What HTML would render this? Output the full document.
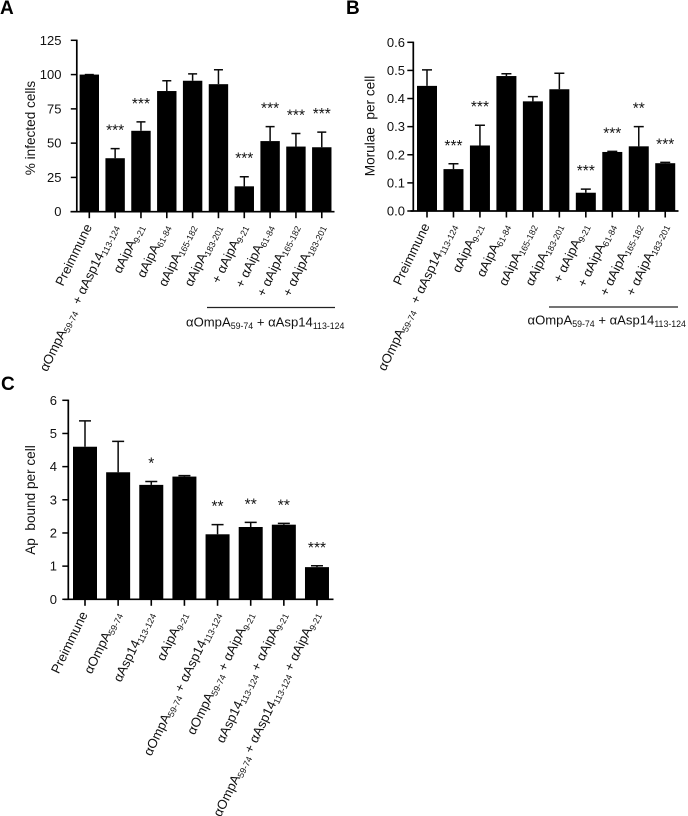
<!DOCTYPE html>
<html lang="en">
<head>
<meta charset="utf-8">
<title>Antibody blocking bar charts</title>
<style>
html,body{margin:0;padding:0;background:#fff;}
#figure{display:block;width:688px;height:816px;}
text{font-family:"Liberation Sans",sans-serif;fill:#111;white-space:pre;}
</style>
</head>
<body>
<svg id="figure" width="688" height="816" viewBox="0 0 688 816" xmlns="http://www.w3.org/2000/svg">
<text x="0" y="14" font-size="19" font-weight="bold" style="fill:#000">A</text>
<text x="346" y="14" font-size="19" font-weight="bold" style="fill:#000">B</text>
<text x="1" y="390" font-size="19" font-weight="bold" style="fill:#000">C</text>
<line x1="207" y1="307.5" x2="335" y2="307.5" stroke="#222" stroke-width="1.3"/>
<text x="186" y="326.5" font-size="13.1">αOmpA<tspan font-size="8.8" dy="2.5">59-74</tspan><tspan dy="-2.5"> + αAsp14</tspan><tspan font-size="8.8" dy="2.5">113-124</tspan></text>
<line x1="549" y1="307" x2="678" y2="307" stroke="#222" stroke-width="1.3"/>
<text x="527.5" y="324.5" font-size="13.1">αOmpA<tspan font-size="8.8" dy="2.5">59-74</tspan><tspan dy="-2.5"> + αAsp14</tspan><tspan font-size="8.8" dy="2.5">113-124</tspan></text>
</svg>
<script>
// Panel A data
const categoriesA = ["Preimmune","αOmpA|59-74|  + αAsp14|113-124|","αAipA|9-21|","αAipA|61-84|","αAipA|165-182|","αAipA|183-201|","+ αAipA|9-21|","+ αAipA|61-84|","+ αAipA|165-182|","+ αAipA|183-201|"];
const valuesA = [100,39,59,88,95.5,93,18.5,51.5,47.5,47];
const errorTopsA = [100,46,65.5,95.5,100.5,103.5,25.5,62,57,58];
const starsA = ["","***","***","","","","***","***","***","***"];
const tickValuesA = [0,25,50,75,100,125];
const tickLabelsA = ["0","25","50","75","100","125"];

// Panel B data
const categoriesB = ["Preimmune","αOmpA|59-74|  + αAsp14|113-124|","αAipA|9-21|","αAipA|61-84|","αAipA|165-182|","αAipA|183-201|","+ αAipA|9-21|","+ αAipA|61-84|","+ αAipA|165-182|","+ αAipA|183-201|"];
const valuesB = [0.445,0.149,0.233,0.48,0.39,0.433,0.065,0.21,0.23,0.17];
const errorTopsB = [0.502,0.168,0.305,0.488,0.407,0.49,0.078,0.212,0.3,0.173];
const starsB = ["","***","***","","","","***","***","**","***"];
const tickValuesB = [0,0.1,0.2,0.3,0.4,0.5,0.6];
const tickLabelsB = ["0.0","0.1","0.2","0.3","0.4","0.5","0.6"];

// Panel C data
const categoriesC = ["Preimmune","αOmpA|59-74|","αAsp14|113-124|","αAipA|9-21|","αOmpA|59-74| + αAsp14|113-124|","αOmpA|59-74| + αAipA|9-21|","αAsp14|113-124| + αAipA|9-21|","αOmpA|59-74| + αAsp14|113-124| + αAipA|9-21|"];
const valuesC = [4.6,3.83,3.45,3.7,1.96,2.18,2.25,0.97];
const errorTopsC = [5.38,4.76,3.55,3.73,2.25,2.32,2.29,1.01];
const starsC = ["","","*","","**","**","**","***"];
const tickValuesC = [0,1,2,3,4,5,6];
const tickLabelsC = ["0","1","2","3","4","5","6"];

const SVG_NS = "http://www.w3.org/2000/svg";
const figure = document.getElementById("figure");

function make(tag, parent, props) {
  const el = document.createElementNS(SVG_NS, tag);
  for (const k in props) el.setAttribute(k, props[k]);
  parent.appendChild(el);
  return el;
}

function drawChart(cfg) {
  const yScale = v => cfg.y0 - (v - cfg.yMin) / (cfg.yMax - cfg.yMin) * (cfg.y0 - cfg.yTop);
  const xScale = i => cfg.x0 + i * cfg.step;

  const group = make("g", figure, {});
  
  

  cfg.values.forEach((v, i) => {
    const cx = xScale(i);
    const top = yScale(v);
    const errTop = yScale(cfg.errors[i]);

    const err = make("path", group, {
      d: `M${cx} ${top}V${errTop}M${cx - cfg.capW / 2} ${errTop}H${cx + cfg.capW / 2}`,
      stroke: "#0a0a0a", "stroke-width": 1.5, fill: "none"
    });
    
    

    const bar = make("rect", group, {
      x: cx - cfg.barW / 2, y: top, width: cfg.barW, height: cfg.y0 - top, fill: "#000"
    });
    
    

    if (cfg.stars[i]) {
      const star = make("text", group, {
        x: cx, y: errTop - 19.6 + 6.6, "font-size": 15.5, "text-anchor": "middle"
      });
      
      
      star.textContent = cfg.stars[i];
    }

    const tick = make("line", group, {
      x1: cx, x2: cx, y1: cfg.y0, y2: cfg.y0 + 6.5, stroke: "#000", "stroke-width": 1.6
    });
    
    

    const lx = cx + 3;
    const ly = cfg.y0 + 15;
    const label = make("text", group, {
      x: 0, y: 0, "font-size": 13.1, "text-anchor": "end",
      transform: `translate(${lx} ${ly}) rotate(-64)`
    });
    
    
    let shifted = false;
    cfg.categories[i].split("|").forEach((part, p) => {
      if (!part) return;
      const isSub = p % 2 === 1;
      const span = make("tspan", label, {});
      if (isSub) {
        span.setAttribute("font-size", "8.8");
        span.setAttribute("dy", "2.5");
        shifted = true;
      } else if (shifted) {
        span.setAttribute("dy", "-2.5");
        shifted = false;
      }
      span.textContent = part;
    });
  });

  const axis = make("path", group, {
    d: `M${cfg.axisX} ${cfg.yTop - 0.7}V${cfg.y0}M${cfg.axisLeft} ${cfg.y0}H${cfg.axisRight}`,
    stroke: "#000", "stroke-width": 1.7, fill: "none"
  });
  
  

  cfg.tickValues.forEach((t, i) => {
    const y = yScale(t);
    const tick = make("line", group, {
      x1: cfg.axisX - 6, x2: cfg.axisX, y1: y, y2: y, stroke: "#000", "stroke-width": 1.5
    });
    
    

    const label = make("text", group, {
      x: cfg.tickLabelX, y: y + 4.5, "font-size": 13, "text-anchor": "end"
    });
    
    
    label.textContent = cfg.tickLabels[i];
  });

  const title = make("text", group, {
    x: 0, y: 0, "font-size": 13.6, "text-anchor": "middle",
    transform: `translate(${cfg.titleX} ${cfg.titleY}) rotate(-90)`
  });
  
  
  title.textContent = cfg.title;
}

drawChart({
  id: "panel-a", categories: categoriesA, values: valuesA, errors: errorTopsA, stars: starsA,
  tickValues: tickValuesA, tickLabels: tickLabelsA, title: "% infected cells",
  yMin: 0, yMax: 125, y0: 211.7, yTop: 40.3, axisX: 76.8, axisLeft: 70.5, axisRight: 334.5,
  x0: 89.3, step: 25.83, barW: 19.4, capW: 9, tickLabelX: 61.5, titleX: 35, titleY: 128
});
drawChart({
  id: "panel-b", categories: categoriesB, values: valuesB, errors: errorTopsB, stars: starsB,
  tickValues: tickValuesB, tickLabels: tickLabelsB, title: "Morulae  per cell",
  yMin: 0, yMax: 0.6, y0: 211, yTop: 42.3, axisX: 413.3, axisLeft: 410.5, axisRight: 678.5,
  x0: 427, step: 26.47, barW: 20, capW: 10, tickLabelX: 405, titleX: 374.5, titleY: 126
});
drawChart({
  id: "panel-c", categories: categoriesC, values: valuesC, errors: errorTopsC, stars: starsC,
  tickValues: tickValuesC, tickLabels: tickLabelsC, title: "Ap  bound per cell",
  yMin: 0, yMax: 6, y0: 599.3, yTop: 400.3, axisX: 68.3, axisLeft: 64, axisRight: 333.5,
  x0: 85, step: 33.14, barW: 24, capW: 12, tickLabelX: 57, titleX: 35, titleY: 500
});
</script>
</body>
</html>
